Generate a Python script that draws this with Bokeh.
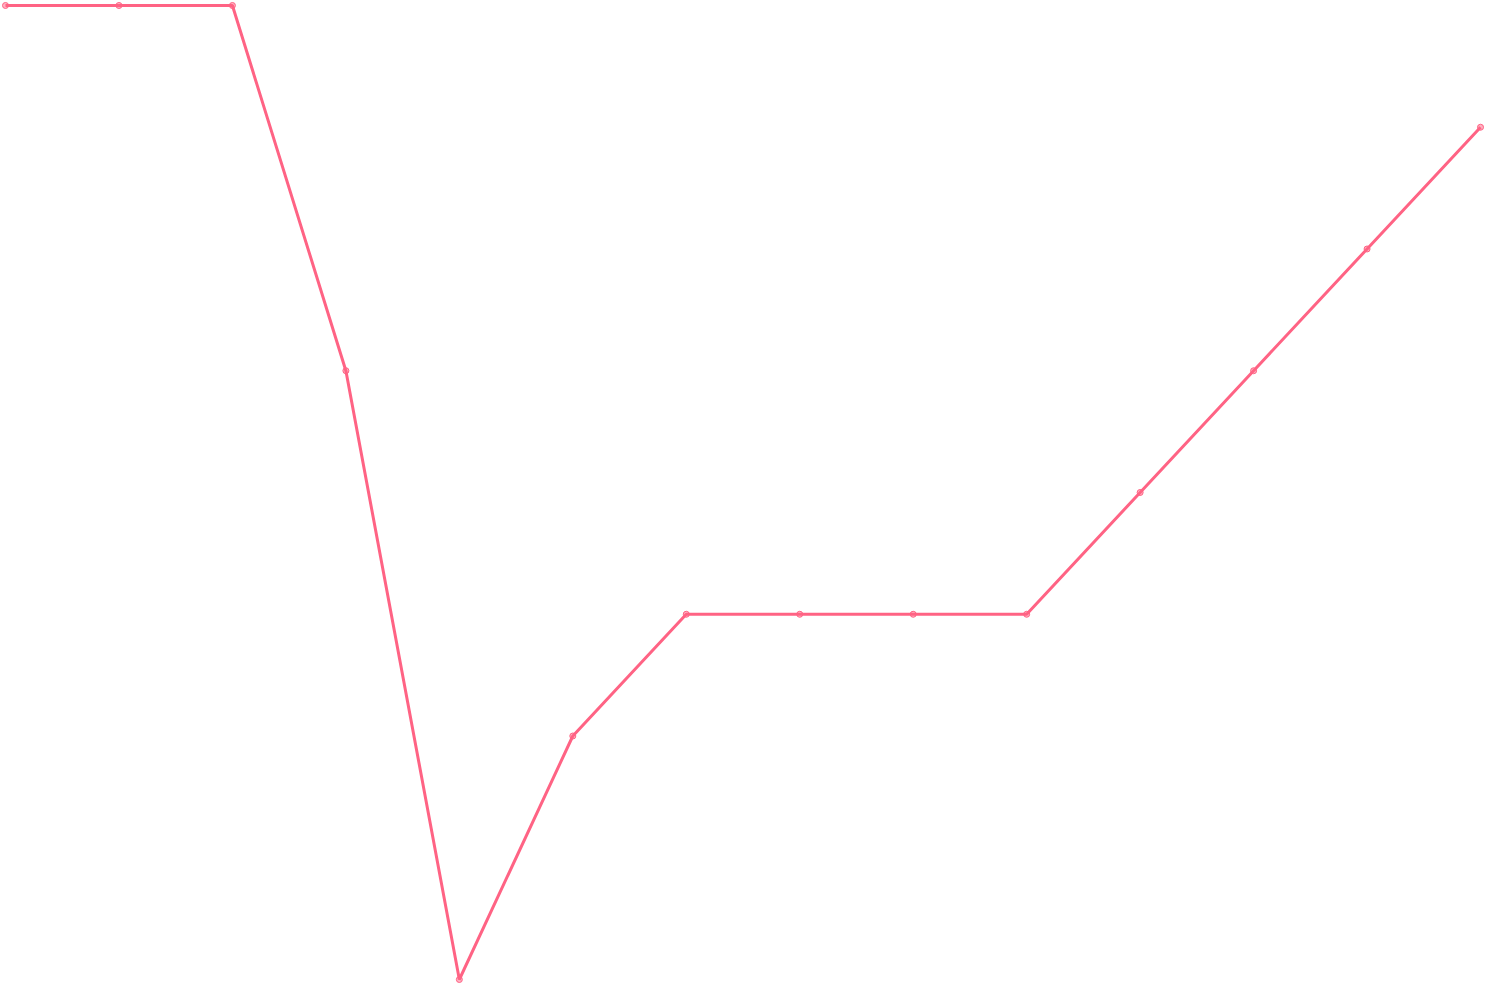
from bokeh.plotting import figure
from bokeh.models import Range1d
from bokeh.embed import file_html
from bokeh.resources import INLINE

labels = list(range(14))
values = [8, 8, 8, 5, 0, 2, 3, 3, 3, 3, 4, 5, 6, 7]

W, H = 1484, 984
p = figure(width=W, height=H, output_backend="svg", toolbar_location=None,
           min_border=0, min_border_left=0, min_border_right=0,
           min_border_top=0, min_border_bottom=0)
p.x_range = Range1d(-0.044, 13.035)
p.y_range = Range1d(-0.041, 8.041)
p.axis.visible = False
p.grid.visible = False
p.outline_line_color = None
p.background_fill_color = "white"
p.border_fill_color = "white"

p.line(labels, values, line_color="#ff6384", line_width=3)
p.scatter(labels, values, size=6, fill_color="#ff6384", fill_alpha=0.5,
          line_color="#ff6384", line_width=1)

open("out.html", "w").write(file_html(p, INLINE))
